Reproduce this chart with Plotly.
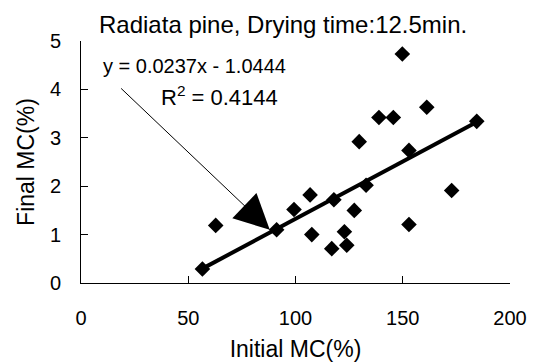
import plotly.graph_objects as go

initial_mc = [56.6, 62.8, 91.2, 99.3, 106.8, 107.6, 116.9, 117.9, 122.8, 123.9,
              127.4, 129.7, 132.9, 138.9, 145.6, 149.8, 152.9, 152.9, 161.2, 172.8, 184.5]
final_mc = [0.29, 1.19, 1.10, 1.52, 1.82, 1.00, 0.71, 1.72, 1.06, 0.78,
            1.50, 2.92, 2.02, 3.42, 3.42, 4.73, 2.74, 1.21, 3.63, 1.91, 3.34]

slope = 0.0237
intercept = -1.0444
x_ticks = [0, 50, 100, 150, 200]
y_ticks = [0, 1, 2, 3, 4, 5]

FONT = "Liberation Sans, Arial, sans-serif"

xmin, xmax = min(initial_mc), max(initial_mc)
fit_x = [xmin, xmax]
fit_y = [slope * v + intercept for v in fit_x]

fig = go.Figure()
fig.add_trace(go.Scatter(x=fit_x, y=fit_y, mode="lines",
                         line=dict(color="black", width=4), showlegend=False))
fig.add_trace(go.Scatter(x=initial_mc, y=final_mc, mode="markers",
                         marker=dict(symbol="diamond", size=12, color="black"),
                         showlegend=False))

fig.add_annotation(x=0.47, y=1.0, xref="paper", yref="paper", yanchor="bottom",
                   yshift=1, text="Radiata pine, Drying time:12.5min.", showarrow=False,
                   font=dict(family=FONT, size=24, color="black"))
fig.add_annotation(x=52.7, y=4.48, xref="x", yref="y", text="y = 0.0237x - 1.0444",
                   showarrow=False, font=dict(family=FONT, size=20, color="black"))
fig.add_annotation(x=64.6, y=3.87, xref="x", yref="y", text="R<sup>2</sup> = 0.4144",
                   showarrow=False, font=dict(family=FONT, size=22, color="black"))
# pointer arrow
fig.add_annotation(x=88, y=1.10, ax=18, ay=4.05, xref="x", yref="y", axref="x", ayref="y",
                   text="", showarrow=True, arrowhead=2, arrowsize=7, arrowwidth=1,
                   arrowcolor="black")

# y tick labels placed away from the axis line (as in the reference)
for v in y_ticks:
    fig.add_annotation(x=0, y=v, xref="paper", yref="y", xanchor="right", yanchor="middle",
                       xshift=-18, text=str(v), showarrow=False,
                       font=dict(family=FONT, size=20, color="black"))

axis_common = dict(showline=True, linecolor="black", linewidth=1, ticks="inside",
                   ticklen=7, tickcolor="black", showgrid=False, zeroline=False,
                   automargin=False,
                   tickfont=dict(family=FONT, size=20, color="black"),
                   title_font=dict(family=FONT, size=23, color="black"))
fig.update_xaxes(range=[0, 200], tickvals=x_ticks, title_text="Initial MC(%)",
                 ticklabelstandoff=17, title_standoff=12, **axis_common)
fig.update_yaxes(range=[0, 5], tickvals=y_ticks, showticklabels=False,
                 title_text="Final MC(%)", title_standoff=38, **axis_common)

fig.update_layout(width=535, height=363, margin=dict(l=81, r=25, t=41, b=80),
                  paper_bgcolor="white", plot_bgcolor="white",
                  font=dict(family=FONT, color="black"))
fig.write_html("out.html")
